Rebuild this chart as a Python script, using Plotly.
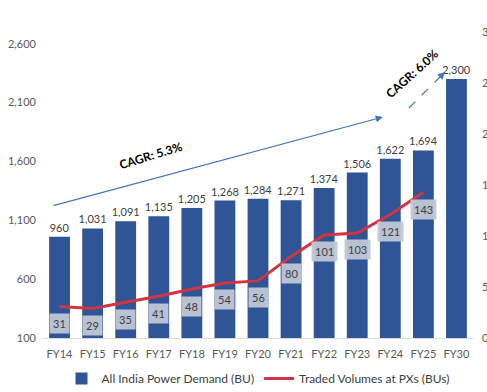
import plotly.graph_objects as go

categories = ["FY14", "FY15", "FY16", "FY17", "FY18", "FY19", "FY20",
              "FY21", "FY22", "FY23", "FY24", "FY25", "FY30"]
power_demand = [960, 1031, 1091, 1135, 1205, 1268, 1284, 1271, 1374, 1506, 1622, 1694, 2300]
traded_cats = categories[:12]
traded_volumes = [31, 29, 35, 41, 48, 54, 56, 80, 101, 103, 121, 143]

left_ticks = [100, 600, 1100, 1600, 2100, 2600]
right_ticks = [0, 50, 100, 150, 200, 250, 300]

FONT = "Lato, 'Open Sans', sans-serif"
GREY = "#595959"
BAR = "#2F5597"
RED = "#D03541"
ARROW = "#4472C4"

fig = go.Figure()
fig.add_trace(go.Bar(
    x=categories, y=power_demand, name="All India Power Demand (BU)",
    marker=dict(color=BAR, line=dict(width=0)),
    text=power_demand, texttemplate="%{y:,}", textposition="outside",
    constraintext="none",
    textfont=dict(size=11, color="#404040", family=FONT),
    cliponaxis=False, yaxis="y",
))
fig.add_trace(go.Scatter(
    x=traded_cats, y=traded_volumes, name="Traded Volumes at PXs (BUs)",
    mode="lines", line=dict(color=RED, width=3), yaxis="y2",
))

annotations = []
for c, v in zip(traded_cats, traded_volumes):
    annotations.append(dict(
        x=c, y=v, xref="x", yref="y2", text=str(v), showarrow=False,
        yshift=-17, bgcolor="rgba(192,200,214,0.95)", borderpad=3,
        font=dict(size=11, color="#404040", family=FONT),
    ))

def px(xp):
    return (xp - 43.5) / 429.5

def py(yp):
    return (338 - yp) / 306.0

# CAGR arrows and labels
annotations.append(dict(
    x=px(383), y=py(117), xref="paper", yref="paper", text="",
    showarrow=True, ax=52 - 383, ay=206 - 117, arrowhead=2, arrowsize=1.2,
    arrowwidth=1.2, arrowcolor=ARROW,
))
annotations.append(dict(
    x=px(445), y=py(72), xref="paper", yref="paper", text="",
    showarrow=True, ax=-7, ay=7, arrowhead=2, arrowsize=1.2,
    arrowwidth=1.2, arrowcolor=ARROW,
))
annotations.append(dict(
    x=px(151), y=py(155), xref="paper", yref="paper", text="<b>CAGR: 5.3%</b>",
    xanchor="center", yanchor="middle",
    showarrow=False, textangle=-17, font=dict(size=12, color="#000000", family=FONT),
))
annotations.append(dict(
    x=px(412), y=py(73), xref="paper", yref="paper", text="<b>CAGR: 6.0%</b>",
    xanchor="center", yanchor="middle",
    showarrow=False, textangle=-42, font=dict(size=12, color="#000000", family=FONT),
))

shapes = [dict(
    type="line", xref="paper", yref="paper",
    x0=px(409), y0=py(108), x1=px(440), y1=py(77),
    line=dict(color=ARROW, width=1.2, dash="dash"),
)]

fig.update_layout(
    width=487, height=392,
    margin=dict(l=43, r=14, t=32, b=54, autoexpand=False),
    paper_bgcolor="white", plot_bgcolor="white",
    font=dict(family=FONT, color=GREY, size=11),
    bargap=0.37,
    showlegend=True,
    legend=dict(orientation="h", x=0.5, xanchor="center", y=-0.085, yanchor="top",
                font=dict(size=12, color="#404040"), itemwidth=30,
                traceorder="normal"),
    xaxis=dict(type="category", showgrid=False, showline=True, linecolor="#D9D9D9",
               linewidth=1, ticks="", tickfont=dict(size=11, color=GREY),
               automargin=False, ticklabelstandoff=6),
    yaxis=dict(range=[100, 2700], tickvals=left_ticks, tickformat=",",
               showgrid=False, zeroline=False, showline=False, ticks="",
               tickfont=dict(size=11, color=GREY), automargin=False,
               ticklabelstandoff=6),
    yaxis2=dict(range=[0, 300], tickvals=right_ticks, overlaying="y", side="right",
                showgrid=False, zeroline=False, showline=False, ticks="",
                tickfont=dict(size=11, color=GREY), automargin=False,
                ticklabelstandoff=8),
    annotations=annotations,
    shapes=shapes,
)

fig.write_html("out.html", config={"displayModeBar": False},
               post_script="document.body.style.margin='0';")
